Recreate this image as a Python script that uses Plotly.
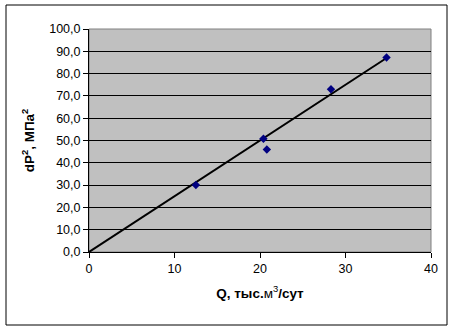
import plotly.graph_objects as go

# Data
q_points = [12.5, 20.4, 20.8, 28.3, 34.8]
dp2_points = [30.0, 50.8, 46.0, 73.0, 87.2]
trend_x = [0.0, 34.8]
trend_y = [0.0, 87.0]
y_ticks = [0, 10, 20, 30, 40, 50, 60, 70, 80, 90, 100]
y_tick_labels = [f"{v:.1f}".replace(".", ",") for v in y_ticks]
x_ticks = [0, 10, 20, 30, 40]

W, H = 457, 330
L, R, T, B = 89, 26, 29, 78
pw, ph = W - L - R, H - T - B

def px_x(x):
    return (x - L) / pw

def px_y(y):
    return (H - B - y) / ph

font = "Liberation Sans, Arial, sans-serif"

fig = go.Figure()
fig.add_trace(go.Scatter(x=trend_x, y=trend_y, mode="lines",
                         line=dict(color="black", width=2), hoverinfo="skip",
                         showlegend=False))
fig.add_trace(go.Scatter(x=q_points, y=dp2_points, mode="markers",
                         marker=dict(symbol="diamond", color="#000080", size=6.5),
                         showlegend=False))

fig.update_layout(
    width=W, height=H,
    margin=dict(l=L, r=R, t=T, b=B),
    paper_bgcolor="white", plot_bgcolor="#C0C0C0",
    font=dict(family=font, size=12.5, color="black"),
    xaxis=dict(range=[0, 40], tickvals=x_ticks, showgrid=False, zeroline=False,
               showline=True, linecolor="black", linewidth=1,
               ticks="outside", ticklen=5, tickcolor="black",
               tickfont=dict(size=12.5),
               title=dict(text="<b>Q, тыс.</b>м<sup>3</sup><b>/сут</b>",
                          font=dict(size=13.5), standoff=13)),
    yaxis=dict(range=[0, 100], tickvals=y_ticks, ticktext=y_tick_labels,
               showgrid=True, gridcolor="black", gridwidth=1, zeroline=False,
               showline=True, linecolor="black", linewidth=1,
               ticks="outside", ticklen=5, tickcolor="black",
               tickfont=dict(size=12.5),
               title=dict(text="<b>dP<sup>2</sup>, МПа<sup>2</sup></b>",
                          font=dict(size=13.5), standoff=11)),
    shapes=[
        dict(type="rect", xref="paper", yref="paper", x0=0, x1=1, y0=0, y1=1,
             line=dict(color="#808080", width=1), fillcolor="rgba(0,0,0,0)",
             layer="below"),
        dict(type="rect", xref="paper", yref="paper",
             x0=px_x(6), x1=px_x(447), y0=px_y(325), y1=px_y(5),
             line=dict(color="black", width=1), fillcolor="rgba(0,0,0,0)"),
    ],
)

fig.write_html("out.html")
